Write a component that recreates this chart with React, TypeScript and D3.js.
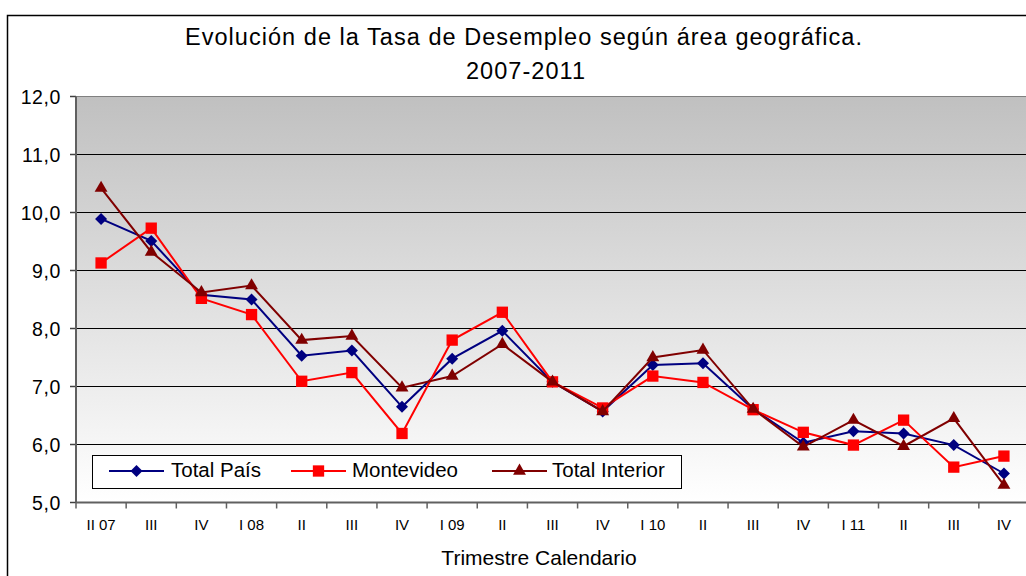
import { useMemo } from 'react';
import * as d3 from 'd3';

const quarters = ['II 07', 'III', 'IV', 'I 08', 'II', 'III', 'IV', 'I 09', 'II', 'III', 'IV', 'I 10', 'II', 'III', 'IV', 'I 11', 'II', 'III', 'IV'];
const totalPais = [9.89, 9.51, 8.58, 8.5, 7.53, 7.62, 6.65, 7.48, 7.96, 7.08, 6.57, 7.37, 7.4, 6.61, 6.03, 6.23, 6.19, 5.99, 5.5];
const montevideo = [9.13, 9.73, 8.52, 8.24, 7.09, 7.24, 6.19, 7.8, 8.28, 7.08, 6.63, 7.18, 7.07, 6.6, 6.21, 5.99, 6.42, 5.61, 5.8];
const totalInterior = [10.42, 9.32, 8.62, 8.74, 7.8, 7.87, 6.98, 7.18, 7.73, 7.08, 6.57, 7.5, 7.63, 6.61, 5.96, 6.42, 5.97, 6.45, 5.3];
const yTicks = [5, 6, 7, 8, 9, 10, 11, 12];

const series = [
  { name: 'Total País', values: totalPais, color: '#000080', marker: 'diamond' },
  { name: 'Montevideo', values: montevideo, color: '#FF0000', marker: 'square' },
  { name: 'Total Interior', values: totalInterior, color: '#800000', marker: 'triangle' },
];

const width = 1026,
  height = 576;
// plot area runs a little past the right edge of the window, as in the original
const MARGIN = { top: 96.5, right: -3, bottom: 73.5, left: 76 };
const FONT = 'Liberation Sans, Arial, sans-serif';

const markerPath = (kind: string) => {
  if (kind === 'diamond') return d3.symbol(d3.symbolSquare, 72)();
  if (kind === 'square') return d3.symbol(d3.symbolSquare, 128)();
  return d3.symbol(d3.symbolTriangle, 72)();
};

export default function App() {
  const boundsWidth = width - MARGIN.left - MARGIN.right;
  const boundsHeight = height - MARGIN.top - MARGIN.bottom;

  const xScale = useMemo(
    () => d3.scaleBand<number>().domain(d3.range(quarters.length)).range([0, boundsWidth]),
    [boundsWidth]
  );
  const yScale = useMemo(() => d3.scaleLinear().domain([5, 12]).range([boundsHeight, 0]), [boundsHeight]);

  const cx = (i: number) => (xScale(i) ?? 0) + xScale.bandwidth() / 2;
  const line = d3
    .line<number>()
    .x((_, i) => cx(i))
    .y(d => yScale(d));

  const legendItems = [
    { x: 109, tx: 171 },
    { x: 291, tx: 352 },
    { x: 492, tx: 552 },
  ];

  return (
    <div style={{ position: 'absolute', left: 0, top: 0 }}>
      <svg width={width} height={height} style={{ display: 'block', background: '#fff' }}>
        <defs>
          <linearGradient id="bg" x1="0" y1="0" x2="0" y2="1">
            <stop offset="0%" stopColor="#c0c0c0" />
            <stop offset="100%" stopColor="#ffffff" />
          </linearGradient>
        </defs>
        {/* outer frame */}
        <rect x={7.5} y={15.5} width={1030} height={600} fill="none" stroke="#000" strokeWidth={1.5} />

        <text
          x={523.5}
          y={45}
          textAnchor="middle"
          fontFamily={FONT}
          fontSize={23.5}
          textLength={677}
          lengthAdjust="spacing"
          fill="#000"
        >
          Evolución de la Tasa de Desempleo según área geográfica.
        </text>
        <text x={525.5} y={78.5} textAnchor="middle" fontFamily={FONT} fontSize={23.5} textLength={119} lengthAdjust="spacing" fill="#000">
          2007-2011
        </text>

        <g transform={`translate(${MARGIN.left},${MARGIN.top})`}>
          <rect x={0} y={0} width={boundsWidth} height={boundsHeight} fill="url(#bg)" stroke="#808080" strokeWidth={1} />
          {yTicks.map(t => (
            <g key={t}>
              {t > 5 && t < 12 && (
                <line x1={0} x2={boundsWidth} y1={yScale(t)} y2={yScale(t)} stroke="#000" strokeWidth={1.2} />
              )}
              <line x1={-6} x2={0} y1={yScale(t)} y2={yScale(t)} stroke="#404040" strokeWidth={1.5} />
              <text x={-15} y={yScale(t)} dy="0.36em" textAnchor="end" fontFamily={FONT} fontSize={19.5} letterSpacing={0.6} fill="#000">
                {d3.format('.1f')(t).replace('.', ',')}
              </text>
            </g>
          ))}
          <line x1={0} x2={0} y1={0} y2={boundsHeight} stroke="#606060" strokeWidth={2} />
          <line x1={0} x2={boundsWidth} y1={boundsHeight} y2={boundsHeight} stroke="#606060" strokeWidth={2} />
          {d3.range(quarters.length + 1).map(i => (
            <line
              key={i}
              x1={i * xScale.bandwidth()}
              x2={i * xScale.bandwidth()}
              y1={boundsHeight}
              y2={boundsHeight + 6}
              stroke="#606060"
              strokeWidth={1.5}
            />
          ))}
          {quarters.map((q, i) => (
            <text key={i} x={cx(i)} y={boundsHeight + 27.5} textAnchor="middle" fontFamily={FONT} fontSize={15} fill="#000">
              {q}
            </text>
          ))}

          {series.map(s => (
            <g key={s.name}>
              <path d={line(s.values) ?? ''} fill="none" stroke={s.color} strokeWidth={2} />
              {s.values.map((v, i) => (
                <path
                  key={i}
                  d={markerPath(s.marker) ?? ''}
                  transform={`translate(${cx(i)},${yScale(v)}) rotate(${s.marker === 'diamond' ? 45 : 0})`}
                  fill={s.color}
                />
              ))}
            </g>
          ))}
        </g>

        <text x={539} y={565} textAnchor="middle" fontFamily={FONT} fontSize={21} fill="#000">
          Trimestre Calendario
        </text>

        {/* legend */}
        <rect x={92.5} y={455.5} width={589} height={33} fill="#fff" stroke="#000" strokeWidth={1} />
        {series.map((s, i) => (
          <g key={s.name}>
            <line x1={legendItems[i].x} x2={legendItems[i].x + 55} y1={471} y2={471} stroke={s.color} strokeWidth={2} />
            <path
              d={markerPath(s.marker) ?? ''}
              transform={`translate(${legendItems[i].x + 27.5},471) rotate(${s.marker === 'diamond' ? 45 : 0})`}
              fill={s.color}
            />
            <text x={legendItems[i].tx} y={477} fontFamily={FONT} fontSize={20.5} fill="#000">
              {s.name}
            </text>
          </g>
        ))}
      </svg>
    </div>
  );
}
